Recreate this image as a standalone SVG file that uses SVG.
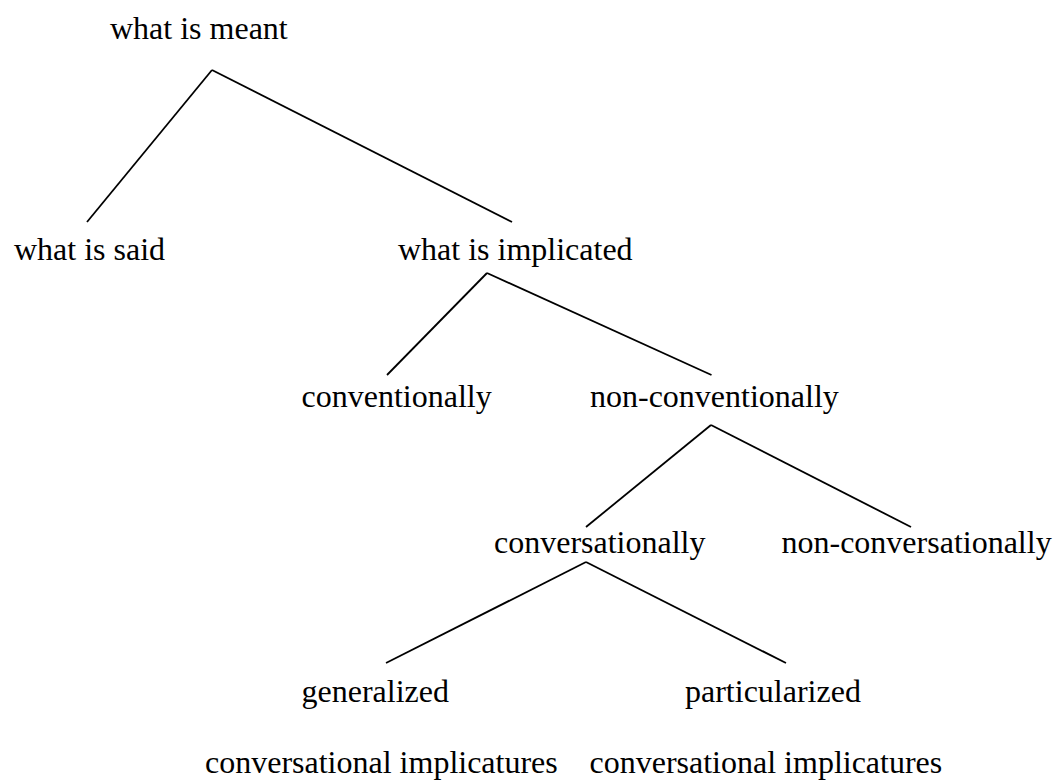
<svg xmlns="http://www.w3.org/2000/svg" width="1053" height="781" viewBox="0 0 1053 781">
<style>
text { font-family: "Liberation Serif", "Times New Roman", serif; font-size: 32px; fill: #000; }
.edge { stroke: #000; stroke-width: 1.8; fill: none; }
</style>
<rect width="1053" height="781" fill="#fff"/>
<g id="connectors">
<line class="edge" x1="212" y1="70" x2="87" y2="222"/>
<line class="edge" x1="212" y1="70" x2="512" y2="222"/>
<line class="edge" x1="487" y1="273" x2="387" y2="375"/>
<line class="edge" x1="487" y1="273" x2="711.5" y2="375"/>
<line class="edge" x1="711" y1="425" x2="586" y2="527"/>
<line class="edge" x1="711" y1="425" x2="911" y2="527"/>
<line class="edge" x1="586" y1="562" x2="386" y2="663"/>
<line class="edge" x1="586" y1="562" x2="786" y2="663"/>
</g>
<g id="what-is-meant"><text x="110" y="39">what is meant</text></g>
<g id="what-is-said"><text x="14" y="260">what is said</text></g>
<g id="what-is-implicated"><text x="398" y="260">what is implicated</text></g>
<g id="conventionally"><text x="301.5" y="407">conventionally</text></g>
<g id="non-conventionally"><text x="590" y="407">non-conventionally</text></g>
<g id="conversationally"><text x="494" y="553">conversationally</text></g>
<g id="non-conversationally"><text x="781.5" y="553">non-conversationally</text></g>
<g id="generalized">
<text x="301.5" y="702">generalized</text>
<text x="205" y="773">conversational implicatures</text>
</g>
<g id="particularized">
<text x="685" y="702">particularized</text>
<text x="589.5" y="773">conversational implicatures</text>
</g>
</svg>
